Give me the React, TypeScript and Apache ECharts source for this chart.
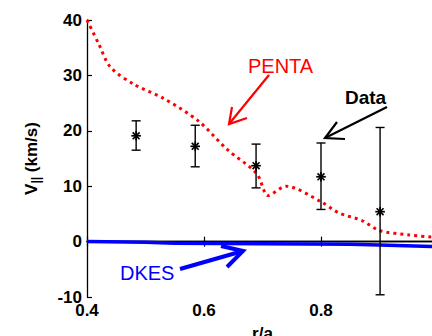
import React, { useEffect, useRef } from "react";
import * as echarts from "echarts";

// Measured data points (r/a, V||, low, high)
const dataR = [0.484, 0.585, 0.689, 0.8, 0.901];
const dataV = [19.1, 17.2, 13.7, 11.7, 5.4];
const dataLow = [16.5, 13.5, 9.7, 5.8, -9.6];
const dataHigh = [21.8, 21.0, 17.6, 17.8, 20.6];

// PENTA curve
const pentaR = [0.4, 0.42, 0.44, 0.48, 0.53, 0.59, 0.64, 0.69, 0.71, 0.74, 0.8, 0.83, 0.87, 0.9, 0.95, 0.99];
const pentaV = [40, 35.7, 31.5, 28.4, 25.9, 21.8, 16.6, 12.3, 8.3, 10.0, 7.2, 5.2, 3.8, 2.0, 1.2, 0.8];

// DKES curve
const dkesR = [0.4, 0.5, 0.55, 0.7, 0.85, 0.9, 1.0];
const dkesV = [0, -0.1, -0.3, -0.4, -0.5, -0.6, -0.9];

const xTicks = [0.4, 0.6, 0.8, 1.0];
const xTickLabels = ["0.4", "0.6", "0.8", ""];
const yTicks = [-10, 0, 10, 20, 30, 40];

const FONT = "'Liberation Sans', Arial, sans-serif";

export default function App() {
  const ref = useRef<HTMLDivElement>(null);
  useEffect(() => {
    document.body.style.margin = "0";
    if (!ref.current) return;
    const chart = echarts.init(ref.current, null, { renderer: "svg" });
    const axisLabel = { color: "#000", fontSize: 17, fontWeight: "bold" as const, fontFamily: FONT };
    const errData = dataR.map((r, i) => [r, dataV[i], dataLow[i], dataHigh[i]]);
    chart.setOption({
      animation: false,
      backgroundColor: "#fff",
      grid: { left: 87, top: 20, width: 351, height: 277, containLabel: false, outerBoundsMode: "none" },
      xAxis: [
        {
          type: "value",
          min: xTicks[0],
          max: xTicks[xTicks.length - 1],
          interval: 0.2,
          axisLine: { show: true, lineStyle: { color: "#000", width: 1.3 } },
          axisTick: { show: true, inside: true, length: 5, lineStyle: { color: "#000", width: 1.2 } },
          splitLine: { show: false },
          axisLabel: {
            ...axisLabel,
            margin: 5,
            formatter: (v: number) => {
              const i = xTicks.findIndex((t) => Math.abs(t - v) < 1e-6);
              return i >= 0 ? xTickLabels[i] : "";
            },
          },
          name: "r/a",
          nameLocation: "middle",
          nameGap: 28,
          nameTextStyle: { color: "#000", fontSize: 17, fontWeight: "bold", fontFamily: FONT },
        },
        {
          type: "value",
          position: "top",
          min: xTicks[0],
          max: xTicks[xTicks.length - 1],
          interval: 0.2,
          axisLine: { show: true, lineStyle: { color: "#000", width: 1.3 } },
          axisTick: { show: true, inside: true, length: 5, lineStyle: { color: "#000", width: 1.2 } },
          splitLine: { show: false },
          axisLabel: { show: false },
        },
      ],
      yAxis: [
        {
          type: "value",
          min: yTicks[0],
          max: yTicks[yTicks.length - 1],
          interval: 10,
          axisLine: { show: true, lineStyle: { color: "#000", width: 1.3 } },
          axisTick: { show: true, inside: true, length: 5, lineStyle: { color: "#000", width: 1.2 } },
          splitLine: { show: false },
          axisLabel: { ...axisLabel, margin: 5 },
          name: "{a|V}{b|||}{a| (km/s)}",
          nameLocation: "middle",
          nameGap: 45,
          nameRotate: 90,
          nameTextStyle: {
            rich: {
              a: { color: "#000", fontSize: 17, fontWeight: "bold", fontFamily: FONT },
              b: { color: "#000", fontSize: 12, fontWeight: "bold", fontFamily: FONT, padding: [9, 0, 0, 0] },
            },
          },
        },
        {
          type: "value",
          position: "right",
          min: yTicks[0],
          max: yTicks[yTicks.length - 1],
          interval: 10,
          axisLine: { show: true, lineStyle: { color: "#000", width: 1.3 } },
          axisTick: { show: true, inside: true, length: 5 },
          splitLine: { show: false },
          axisLabel: { show: false },
        },
      ],
      series: [
        {
          type: "line",
          data: pentaR.map((r, i) => [r, pentaV[i]]),
          showSymbol: false,
          smooth: 0.3,
          lineStyle: { color: "#ff0000", width: 3, type: [3, 4], cap: "butt" },
          z: 2,
        },
        {
          type: "line",
          data: dkesR.map((r, i) => [r, dkesV[i]]),
          showSymbol: false,
          lineStyle: { color: "#0000ff", width: 3.5 },
          z: 2,
        },
        {
          type: "custom",
          data: errData,
          z: 3,
          renderItem: (params: any, api: any) => {
            const x = api.value(0);
            const p = api.coord([x, api.value(1)]);
            const pl = api.coord([x, api.value(2)]);
            const ph = api.coord([x, api.value(3)]);
            const cw = 4.5;
            const s = 4.8;
            const st = { stroke: "#000", lineWidth: 1.4 };
            const stStar = { stroke: "#000", lineWidth: 1.7 };
            const d = s * 0.72;
            return {
              type: "group",
              children: [
                { type: "line", shape: { x1: p[0], y1: ph[1], x2: p[0], y2: pl[1] }, style: st },
                { type: "line", shape: { x1: p[0] - cw, y1: ph[1], x2: p[0] + cw, y2: ph[1] }, style: st },
                { type: "line", shape: { x1: p[0] - cw, y1: pl[1], x2: p[0] + cw, y2: pl[1] }, style: st },
                { type: "line", shape: { x1: p[0] - s, y1: p[1], x2: p[0] + s, y2: p[1] }, style: stStar },
                { type: "line", shape: { x1: p[0], y1: p[1] - s, x2: p[0], y2: p[1] + s }, style: stStar },
                { type: "line", shape: { x1: p[0] - d, y1: p[1] - d, x2: p[0] + d, y2: p[1] + d }, style: stStar },
                { type: "line", shape: { x1: p[0] - d, y1: p[1] + d, x2: p[0] + d, y2: p[1] - d }, style: stStar },
              ],
            };
          },
        },
      ],
      graphic: [
        { type: "text", left: 248, top: 56, style: { text: "PENTA", fill: "#ff0000", font: `20px ${FONT}` } },
        { type: "polyline", shape: { points: [[269, 75], [229, 124]] }, style: { stroke: "#ff0000", lineWidth: 2.2, fill: null } },
        { type: "polyline", shape: { points: [[232, 107], [229, 124], [247, 118]] }, style: { stroke: "#ff0000", lineWidth: 2.2, fill: null } },
        { type: "text", left: 345, top: 88, style: { text: "Data", fill: "#000", font: `bold 19px ${FONT}` } },
        { type: "polyline", shape: { points: [[387, 107], [325, 138]] }, style: { stroke: "#000", lineWidth: 2.2, fill: null } },
        { type: "polyline", shape: { points: [[337, 122], [325, 138], [345, 139]] }, style: { stroke: "#000", lineWidth: 2.2, fill: null } },
        { type: "text", left: 120, top: 263, style: { text: "DKES", fill: "#0000ff", font: `20px ${FONT}` } },
        { type: "polyline", shape: { points: [[180, 269], [243, 251]] }, style: { stroke: "#0000ff", lineWidth: 4, fill: null } },
        { type: "polyline", shape: { points: [[221, 246], [243, 251], [227, 267]] }, style: { stroke: "#0000ff", lineWidth: 4, fill: null } },
      ],
    });
    return () => chart.dispose();
  }, []);
  return <div ref={ref} style={{ width: 432, height: 336 }} />;
}
